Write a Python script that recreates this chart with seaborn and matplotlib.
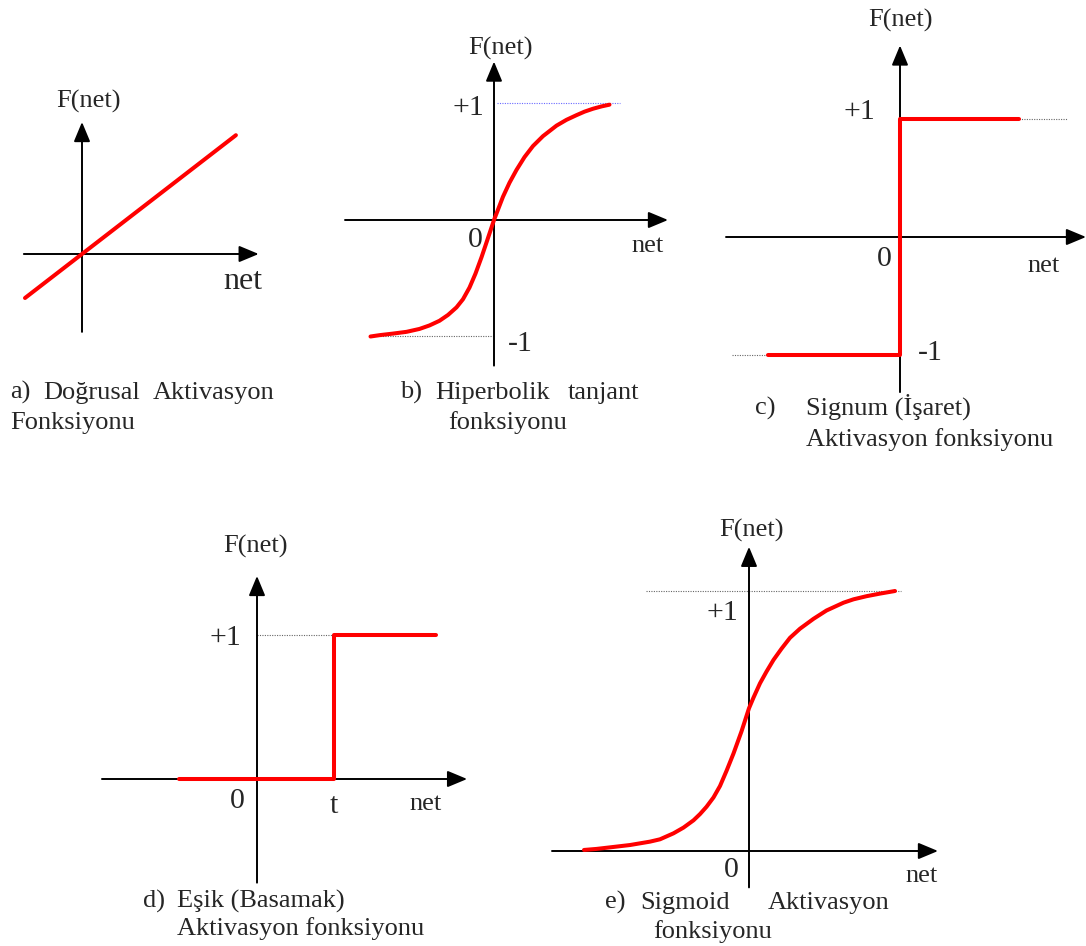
import matplotlib.pyplot as plt
import seaborn as sns

sns.set_style('white')
plt.rcParams['font.family'] = ['Liberation Serif', 'DejaVu Serif']

W, H = 1086, 946
RED = '#ff0000'

# a) linear
lin_net = [-1.0, 2.7]
lin_f = [-1.0, 2.7]

# b) tanh
tanh_net = [-2.47, -2.28, -2.02, -1.75, -1.49, -1.29, -1.09, -0.92, -0.75, -0.62,
            -0.49, -0.37, -0.25, -0.14, 0.0, 0.18, 0.31, 0.45, 0.61, 0.78,
            0.98, 1.25, 1.45, 1.65, 1.81, 1.98, 2.15, 2.31]
tanh_f = [-1.00, -0.988, -0.975, -0.96, -0.935, -0.905, -0.865, -0.815, -0.75, -0.68,
          -0.58, -0.46, -0.32, -0.18, 0.0, 0.20, 0.32, 0.43, 0.54, 0.635,
          0.72, 0.81, 0.86, 0.90, 0.93, 0.955, 0.975, 0.99]

# c) signum
sign_net = [-2.64, 0.0, 0.0, 2.38]
sign_f = [-1, -1, 1, 1]

# d) threshold
t_val = 1.5
step_net = [-1.53, t_val, t_val, 3.51]
step_f = [0, 0, 1, 1]

# e) sigmoid
sig_net = [-3.3, -3.05, -2.78, -2.38, -1.98, -1.78, -1.51, -1.31, -1.11, -0.98,
           -0.85, -0.71, -0.58, -0.45, -0.31, -0.15, 0.0, 0.09, 0.22, 0.35,
           0.49, 0.65, 0.82, 1.02, 1.29, 1.55, 1.89, 2.09, 2.35, 2.62, 2.92]
sig_f = [0.004, 0.008, 0.014, 0.023, 0.036, 0.045, 0.068, 0.09, 0.118, 0.142,
         0.170, 0.206, 0.25, 0.308, 0.375, 0.46, 0.549, 0.59, 0.645, 0.69,
         0.735, 0.778, 0.82, 0.855, 0.893, 0.925, 0.955, 0.968, 0.98, 0.99, 1.0]

fig = plt.figure(figsize=(W / 100, H / 100), dpi=100)

arrow = dict(arrowstyle='-|>,head_length=0.6,head_width=0.25', mutation_scale=20,
             color='black', lw=1.4, shrinkA=0, shrinkB=0)


def panel(ox, oy, sx, sy, hx, vy):
    # ox, oy: pixel position of the origin; sx, sy: pixels per unit
    x0, x1 = hx[0] - 0.2, hx[1] + 0.2
    y0, y1 = vy[0] - 0.1, vy[1] + 0.1
    ax = fig.add_axes([(ox + x0 * sx) / W, 1 - (oy - y0 * sy) / H,
                       (x1 - x0) * sx / W, (y1 - y0) * sy / H])
    ax.set_xlim(x0, x1)
    ax.set_ylim(y0, y1)
    ax.axis('off')
    ax.annotate('', xy=(hx[1], 0), xytext=(hx[0], 0), arrowprops=arrow, zorder=2)
    ax.annotate('', xy=(0, vy[1]), xytext=(0, vy[0]), arrowprops=arrow, zorder=2)
    return ax


def curve(ax, x, y):
    sns.lineplot(x=x, y=y, ax=ax, color=RED, lw=2.9, sort=False,
                 estimator=None, zorder=3, solid_joinstyle='round')


def guide(ax, x, y, color='#666666'):
    ax.plot(x, y, color=color, lw=0.8, ls=(0, (1, 1.2)), zorder=1)


def label(x, y, s, size=19, ha='center'):
    fig.text(x / W, 1 - y / H, s, fontsize=size, ha=ha, va='baseline')


# a
ax = panel(82, 254, 57, 44, (-1.02, 3.1), (-1.77, 3.0))
curve(ax, lin_net, lin_f)
label(88, 108, 'F(net)')
label(223, 289, 'net', size=23, ha='left')
label(10, 399, 'a)', ha='left')
label(43, 399, 'Doğrusal', ha='left')
label(153, 399, 'Aktivasyon', ha='left')
label(10, 429, 'Fonksiyonu', ha='left')

# b
ax = panel(494, 220, 50, 116.5, (-2.98, 3.48), (-1.25, 1.36))
guide(ax, [0.06, 2.52], [1, 1], color='#6a6aff')
guide(ax, [-2.28, 0], [-1, -1])
curve(ax, tanh_net, tanh_f)
label(500, 55, 'F(net)')
label(468, 115, '+1', size=21.5)
label(475, 247, '0', size=21.5)
label(648, 252, 'net')
label(520, 351, '-1', size=21.5)
label(400, 399, 'b)', ha='left')
label(435, 399, 'Hiperbolik', ha='left')
label(568, 399, 'tanjant', ha='left')
label(448, 429, 'fonksiyonu', ha='left')

# c
ax = panel(900, 237, 50, 117.5, (-3.48, 3.72), (-1.32, 1.63))
guide(ax, [2.38, 3.34], [1, 1])
guide(ax, [-3.36, -2.64], [-1, -1])
curve(ax, sign_net, sign_f)
label(900, 27, 'F(net)')
label(859, 119, '+1', size=21.5)
label(884, 266, '0', size=21.5)
label(1044, 272, 'net')
label(930, 360, '-1', size=21.5)
label(755, 415, 'c)', ha='left')
label(806, 415, 'Signum (İşaret)', ha='left')
label(806, 446, 'Aktivasyon fonksiyonu', ha='left')

# d
ax = panel(257, 779, 51, 144, (-3.04, 4.12), (-0.72, 1.41))
guide(ax, [0, t_val], [1, 1])
curve(ax, step_net, step_f)
label(255, 553, 'F(net)')
label(225, 645, '+1', size=21.5)
label(237, 808, '0', size=21.5)
label(334, 813, 't', size=21.5)
label(426, 810, 'net')
label(143, 908, 'd)', ha='left')
label(177, 908, 'Eşik (Basamak)', ha='left')
label(177, 935, 'Aktivasyon fonksiyonu', ha='left')

# e
ax = panel(749, 851, 50, 260, (-3.94, 3.78), (-0.14, 1.17))
guide(ax, [-2.06, 3.04], [1, 1])
curve(ax, sig_net, sig_f)
label(751, 537, 'F(net)')
label(722, 620, '+1', size=21.5)
label(731, 877, '0', size=21.5)
label(922, 882, 'net')
label(605, 909, 'e)', ha='left')
label(640, 909, 'Sigmoid', ha='left')
label(768, 909, 'Aktivasyon', ha='left')
label(653, 938, 'fonksiyonu', ha='left')

fig.savefig('out.png', dpi=100)
